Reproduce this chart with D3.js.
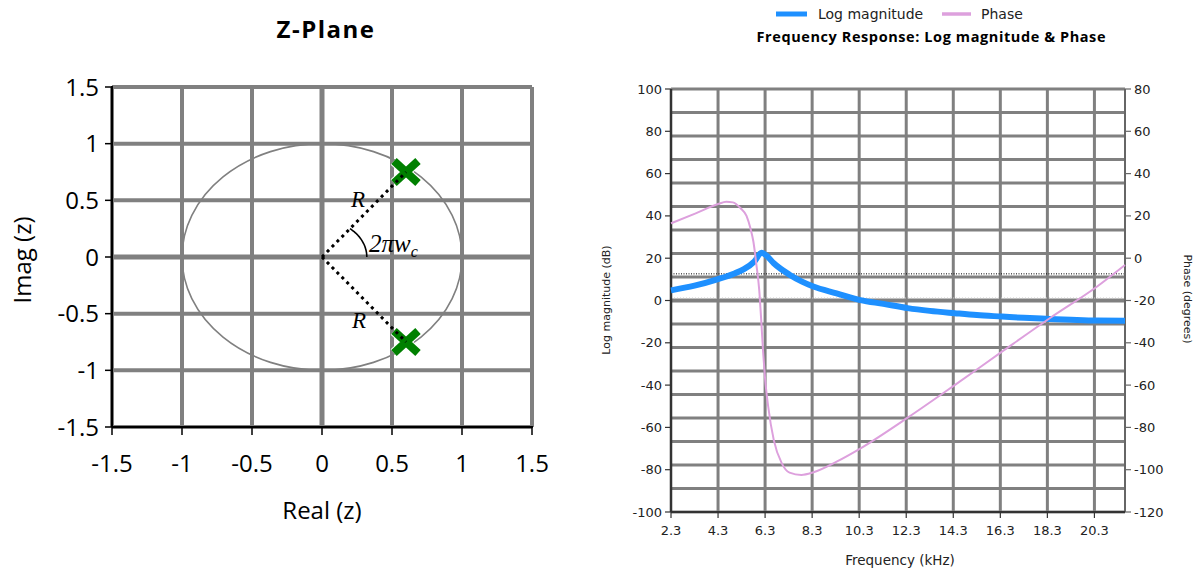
<!DOCTYPE html>
<html>
<head>
<meta charset="utf-8">
<script src="https://cdn.jsdelivr.net/npm/d3@7"></script>
<style>
  body { margin: 0; background: #fff; }
  svg { display: block; }
</style>
</head>
<body>
<script>
// ---- data ----
const zTicks = [-1.5, -1, -0.5, 0, 0.5, 1, 1.5];
const poleRe = [0.6, 0.6];
const poleIm = [0.75, -0.75];

const freqTicks = [2.3, 4.3, 6.3, 8.3, 10.3, 12.3, 14.3, 16.3, 18.3, 20.3];
const magTicks = [-100, -80, -60, -40, -20, 0, 20, 40, 60, 80, 100];
const phaseTicks = [-120, -100, -80, -60, -40, -20, 0, 20, 40, 60, 80];

const magFreq = [2.3, 3.3, 4.3, 5.0, 5.4, 5.85, 6.15, 6.35, 6.67, 7.34, 7.87, 8.35, 9.34, 10.35, 11.33, 12.36, 13.3, 14.36, 15.3, 16.37, 17.3, 18.4, 19.3, 20.4, 21.6];
const magDb   = [4.8, 7.0, 10.1, 12.8, 14.8, 18.5, 22.6, 21.3, 17.6, 12.2, 8.9, 6.6, 3.4, 0.2, -1.6, -3.6, -4.9, -6.0, -6.9, -7.6, -8.2, -8.7, -9.1, -9.5, -9.6];

const phaseFreq = [2.3, 3.35, 4.3, 4.65, 4.93, 5.26, 5.51, 5.68, 5.8, 5.93, 6.05, 6.15, 6.22, 6.3, 6.43, 6.67, 7.01, 7.34, 7.84, 8.36, 9.34, 10.36, 12.36, 14.36, 16.37, 18.4, 20.4, 21.6];
const phaseDeg  = [16.5, 21.2, 25.6, 26.7, 26.4, 23.6, 20.0, 14.0, 8.0, -3.0, -15.0, -32.0, -45.0, -57.0, -70.0, -86.0, -97.0, -101.4, -102.5, -101.2, -96.2, -89.9, -75.4, -60.0, -44.2, -28.4, -13.5, -3.2];

const refDb = [12.6];

// ---- page ----
const svg = d3.select('body').append('svg')
    .attr('width', 1201)
    .attr('height', 570);

const grid = '#808080';

// ================= Z-plane =================
const zx = d3.scaleLinear().domain([-1.5, 1.5]).range([112, 532]);
const zy = d3.scaleLinear().domain([-1.5, 1.5]).range([427, 87]);
const zFont = '"Open Sans", "Noto Sans", sans-serif';

const zp = svg.append('g');

// grid
zTicks.forEach(t => {
    zp.append('line')
        .attr('x1', zx(t)).attr('x2', zx(t))
        .attr('y1', zy(1.5)).attr('y2', zy(-1.5))
        .attr('stroke', grid).attr('stroke-width', t === 0 ? 5 : 4);
    zp.append('line')
        .attr('x1', zx(-1.5)).attr('x2', zx(1.5))
        .attr('y1', zy(t)).attr('y2', zy(t))
        .attr('stroke', grid).attr('stroke-width', t === 0 ? 5 : 4);
});

// axes
zp.append('line')
    .attr('x1', zx(-1.5)).attr('x2', zx(-1.5))
    .attr('y1', zy(1.5) - 1).attr('y2', zy(-1.5))
    .attr('stroke', '#000').attr('stroke-width', 2);
zp.append('line')
    .attr('x1', zx(-1.5)).attr('x2', zx(1.5) + 1)
    .attr('y1', zy(-1.5)).attr('y2', zy(-1.5))
    .attr('stroke', '#000').attr('stroke-width', 2);

zTicks.forEach(t => {
    zp.append('line')
        .attr('x1', zx(-1.5) - 7).attr('x2', zx(-1.5))
        .attr('y1', zy(t)).attr('y2', zy(t))
        .attr('stroke', '#000').attr('stroke-width', 1.5);
    zp.append('line')
        .attr('x1', zx(t)).attr('x2', zx(t))
        .attr('y1', zy(-1.5)).attr('y2', zy(-1.5) + 8)
        .attr('stroke', '#000').attr('stroke-width', 1.5);

    zp.append('text')
        .attr('x', zx(-1.5) - 13)
        .attr('y', zy(t) + 8.5)
        .attr('text-anchor', 'end')
        .attr('font-family', zFont).attr('font-size', '24px').attr('fill', '#000')
        .text(String(t));
    zp.append('text')
        .attr('x', zx(t))
        .attr('y', 472)
        .attr('text-anchor', 'middle')
        .attr('font-family', zFont).attr('font-size', '24px').attr('fill', '#000')
        .text(String(t));
});

// unit circle
zp.append('ellipse')
    .attr('cx', zx(0)).attr('cy', zy(0))
    .attr('rx', zx(1) - zx(0)).attr('ry', zy(0) - zy(1))
    .attr('fill', 'none').attr('stroke', grid).attr('stroke-width', 1.6);

// poles (x markers)
const poles = poleRe.map((re, i) => ({ re, im: poleIm[i] }));
const xMark = 'M-12,-11L12,11M-12,11L12,-11';
poles.forEach(p => {
    zp.append('path')
        .attr('transform', `translate(${zx(p.re)},${zy(p.im)})`)
        .attr('d', xMark)
        .attr('stroke', '#fff').attr('stroke-width', 10).attr('fill', 'none');
    zp.append('path')
        .attr('transform', `translate(${zx(p.re)},${zy(p.im)})`)
        .attr('d', xMark)
        .attr('stroke', '#008000').attr('stroke-width', 8).attr('fill', 'none');
});

// radius lines (dotted)
poles.forEach(p => {
    zp.append('line')
        .attr('x1', zx(0)).attr('y1', zy(0))
        .attr('x2', zx(p.re)).attr('y2', zy(p.im))
        .attr('stroke', '#000').attr('stroke-width', 3)
        .attr('stroke-dasharray', '3,4');
});

// angle arc
const theta = Math.atan2(poleIm[0], poleRe[0]);
const arcR = 0.32;
const arcPts = d3.range(0, 41).map(k => {
    const a = theta * k / 40;
    return [zx(arcR * Math.cos(a)), zy(arcR * Math.sin(a))];
});
zp.append('path')
    .attr('d', d3.line()(arcPts))
    .attr('fill', 'none').attr('stroke', '#000').attr('stroke-width', 1.6);

const serif = '"Liberation Serif", "DejaVu Serif", serif';
zp.append('text')
    .attr('x', 358).attr('y', 207)
    .attr('text-anchor', 'middle')
    .attr('font-family', serif).attr('font-style', 'italic').attr('font-size', '23px')
    .text('R');
zp.append('text')
    .attr('x', 359).attr('y', 328)
    .attr('text-anchor', 'middle')
    .attr('font-family', serif).attr('font-style', 'italic').attr('font-size', '23px')
    .text('R');
const lbl = zp.append('text')
    .attr('x', 369).attr('y', 252)
    .attr('font-family', serif).attr('font-style', 'italic').attr('font-size', '25px');
lbl.append('tspan').text('2πw');
lbl.append('tspan').attr('font-size', '16px').attr('dy', 5).text('c');

// titles
zp.append('text')
    .attr('x', 326).attr('y', 38)
    .attr('text-anchor', 'middle')
    .attr('font-family', zFont).attr('font-weight', 'bold').attr('font-size', '24px')
    .attr('letter-spacing', '1.5px')
    .text('Z-Plane');
zp.append('text')
    .attr('transform', 'translate(31,260) rotate(-90)')
    .attr('text-anchor', 'middle')
    .attr('font-family', zFont).attr('font-size', '24px')
    .text('Imag (z)');
zp.append('text')
    .attr('x', 322).attr('y', 519)
    .attr('text-anchor', 'middle')
    .attr('font-family', zFont).attr('font-size', '24px')
    .text('Real (z)');

// ================= Frequency response =================
const fx = d3.scaleLinear().domain([2.3, 21.6]).range([671, 1125]);
const my = d3.scaleLinear().domain([-100, 100]).range([512, 89]);
const py = d3.scaleLinear().domain([-120, 80]).range([512, 89]);
const fFont = '"DejaVu Sans", Verdana, sans-serif';

const fr = svg.append('g');

// horizontal grid (18 equal divisions)
d3.range(19).map(i => -100 + i * 200 / 18).forEach(v => {
    fr.append('line')
        .attr('x1', fx(2.3)).attr('x2', fx(21.6))
        .attr('y1', my(v)).attr('y2', my(v))
        .attr('stroke', grid).attr('stroke-width', Math.abs(v) < 1e-6 ? 4 : 3);
});
// vertical grid
freqTicks.slice(1).forEach(f => {
    fr.append('line')
        .attr('x1', fx(f)).attr('x2', fx(f))
        .attr('y1', my(100)).attr('y2', my(-100))
        .attr('stroke', grid).attr('stroke-width', 3);
});

// reference lines
fr.append('line')
    .attr('x1', fx(2.3)).attr('x2', fx(21.6))
    .attr('y1', my(0) - 2.5).attr('y2', my(0) - 2.5)
    .attr('stroke', '#c8c8c8').attr('stroke-width', 1)
    .attr('stroke-dasharray', '1,2');
refDb.forEach(v => {
    fr.append('line')
        .attr('x1', fx(2.3)).attr('x2', fx(21.6))
        .attr('y1', my(v)).attr('y2', my(v))
        .attr('stroke', '#000').attr('stroke-width', 1)
        .attr('stroke-dasharray', '1,1.5');
});

// axes
fr.append('line')
    .attr('x1', fx(2.3)).attr('x2', fx(2.3))
    .attr('y1', my(100)).attr('y2', my(-100))
    .attr('stroke', '#333').attr('stroke-width', 2.5);
fr.append('line')
    .attr('x1', fx(21.6)).attr('x2', fx(21.6))
    .attr('y1', my(100)).attr('y2', my(-100))
    .attr('stroke', '#666').attr('stroke-width', 2);
fr.append('line')
    .attr('x1', fx(2.3)).attr('x2', fx(21.6))
    .attr('y1', my(-100)).attr('y2', my(-100))
    .attr('stroke', '#333').attr('stroke-width', 2);

magTicks.forEach(v => {
    fr.append('line')
        .attr('x1', fx(2.3) - 6).attr('x2', fx(2.3))
        .attr('y1', my(v)).attr('y2', my(v))
        .attr('stroke', '#333').attr('stroke-width', 1.2);
    fr.append('text')
        .attr('x', fx(2.3) - 9).attr('y', my(v) + 4.5)
        .attr('text-anchor', 'end')
        .attr('font-family', fFont).attr('font-size', '13px').attr('fill', '#222')
        .text(String(v));
});
phaseTicks.forEach(v => {
    fr.append('line')
        .attr('x1', fx(21.6)).attr('x2', fx(21.6) + 6)
        .attr('y1', py(v)).attr('y2', py(v))
        .attr('stroke', '#666').attr('stroke-width', 1.2);
    fr.append('text')
        .attr('x', fx(21.6) + 9).attr('y', py(v) + 4.5)
        .attr('font-family', fFont).attr('font-size', '13px').attr('fill', '#222')
        .text(String(v));
});
freqTicks.forEach(f => {
    fr.append('line')
        .attr('x1', fx(f)).attr('x2', fx(f))
        .attr('y1', my(-100)).attr('y2', my(-100) + 6)
        .attr('stroke', '#333').attr('stroke-width', 1.2);
    fr.append('text')
        .attr('x', fx(f)).attr('y', 535)
        .attr('text-anchor', 'middle')
        .attr('font-family', fFont).attr('font-size', '13px').attr('fill', '#222')
        .text(String(f));
});

// series
const magLine = d3.line()
    .x((d, i) => fx(magFreq[i]))
    .y(d => my(d))
    .curve(d3.curveMonotoneX);
fr.append('path')
    .attr('d', magLine(magDb))
    .attr('fill', 'none').attr('stroke', '#1E90FF').attr('stroke-width', 6);

const phaseLine = d3.line()
    .x((d, i) => fx(phaseFreq[i]))
    .y(d => py(d))
    .curve(d3.curveMonotoneX);
fr.append('path')
    .attr('d', phaseLine(phaseDeg))
    .attr('fill', 'none').attr('stroke', '#DDA0DD').attr('stroke-width', 2);

// axis titles
fr.append('text')
    .attr('transform', 'translate(610,300) rotate(-90)')
    .attr('text-anchor', 'middle')
    .attr('font-family', fFont).attr('font-size', '11px').attr('fill', '#222')
    .text('Log magnitude (dB)');
fr.append('text')
    .attr('transform', 'translate(1184,299) rotate(90)')
    .attr('text-anchor', 'middle')
    .attr('font-family', fFont).attr('font-size', '11px').attr('fill', '#222')
    .text('Phase (degrees)');
fr.append('text')
    .attr('x', 900).attr('y', 565)
    .attr('text-anchor', 'middle')
    .attr('font-family', fFont).attr('font-size', '13.5px').attr('fill', '#222')
    .text('Frequency (kHz)');

// legend + title
fr.append('line')
    .attr('x1', 776).attr('x2', 807).attr('y1', 14).attr('y2', 14)
    .attr('stroke', '#1E90FF').attr('stroke-width', 5);
fr.append('text')
    .attr('x', 818).attr('y', 19)
    .attr('font-family', fFont).attr('font-size', '14px').attr('fill', '#222')
    .text('Log magnitude');
fr.append('line')
    .attr('x1', 942).attr('x2', 971).attr('y1', 14).attr('y2', 14)
    .attr('stroke', '#DDA0DD').attr('stroke-width', 3.5);
fr.append('text')
    .attr('x', 981).attr('y', 19)
    .attr('font-family', fFont).attr('font-size', '14px').attr('fill', '#222')
    .text('Phase');
fr.append('text')
    .attr('x', 931).attr('y', 42)
    .attr('text-anchor', 'middle')
    .attr('font-family', zFont).attr('font-weight', 'bold').attr('font-size', '14.5px')
    .attr('textLength', 349).attr('lengthAdjust', 'spacing')
    .text('Frequency Response: Log magnitude & Phase');
</script>
</body>
</html>
